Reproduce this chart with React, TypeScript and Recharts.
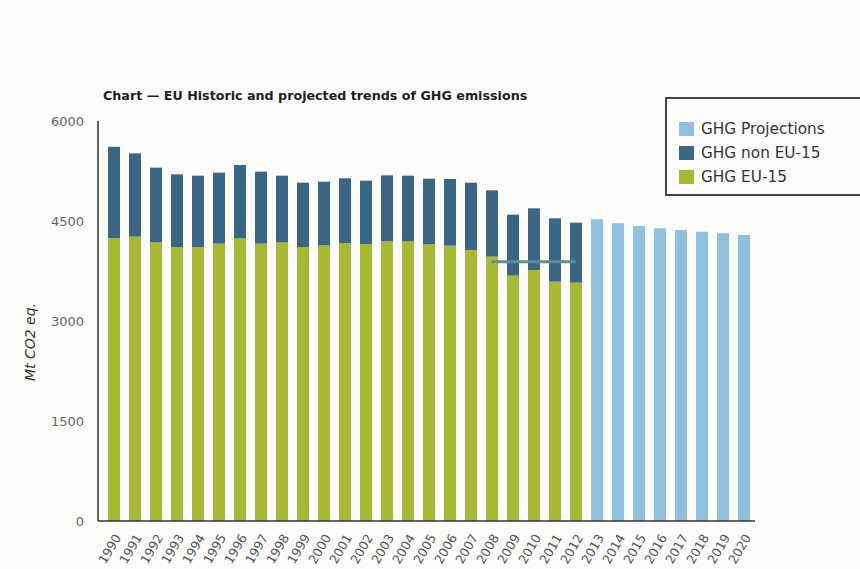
import { ComposedChart, Bar, Line, XAxis, YAxis } from 'recharts'

const years = [
  '1990', '1991', '1992', '1993', '1994', '1995', '1996', '1997', '1998', '1999', '2000',
  '2001', '2002', '2003', '2004', '2005', '2006', '2007', '2008', '2009', '2010', '2011',
  '2012', '2013', '2014', '2015', '2016', '2017', '2018', '2019', '2020',
]

// Mt CO2 eq.
const ghgEu15 = [
  4240, 4265, 4180, 4110, 4110, 4160, 4240, 4160, 4180, 4110, 4135,
  4170, 4155, 4195, 4195, 4150, 4130, 4065, 3965, 3680, 3765, 3590, 3575,
]
const ghgNonEu15 = [
  1375, 1250, 1120, 1090, 1070, 1065, 1100, 1080, 1000, 965, 955,
  970, 950, 990, 985, 985, 1000, 1010, 995, 915, 925, 950, 900,
]
const ghgProjections = [4525, 4465, 4425, 4390, 4365, 4340, 4315, 4290]
const projectionStart = '2013'

// the short horizontal line drawn across 2008-2012
const targetYears = ['2008', '2009', '2010', '2011', '2012']
const targetValue = 3890

const yTicks = [0, 1500, 3000, 4500, 6000]

const legendItems = [
  { label: 'GHG Projections', color: '#8fc1de' },
  { label: 'GHG non EU-15', color: '#3c6784' },
  { label: 'GHG EU-15', color: '#a7b934' },
]

const projOffset = years.indexOf(projectionStart)
const data = years.map((year, i) => ({
  year,
  eu15: i < ghgEu15.length ? ghgEu15[i] : null,
  nonEu15: i < ghgNonEu15.length ? ghgNonEu15[i] : null,
  projection: i >= projOffset ? ghgProjections[i - projOffset] : null,
  target: targetYears.includes(year) ? targetValue : null,
}))

const font = '"DejaVu Sans", Verdana, sans-serif'

function YearTick({ x, y, payload }: any) {
  return (
    <text
      x={x + 4}
      y={y + 6}
      transform={`rotate(-60, ${x + 4}, ${y + 6})`}
      textAnchor="end"
      dominantBaseline="central"
      fontSize={12.5}
      fill="#555"
      fontFamily={font}
    >
      {payload.value}
    </text>
  )
}

export default function App() {
  return (
    <div style={{ position: 'absolute', left: 0, top: 0, width: 860, height: 569, background: '#fcfcfb', overflow: 'hidden' }}>
      <div
        style={{
          position: 'absolute',
          left: 103,
          top: 88,
          fontFamily: font,
          fontWeight: 'bold',
          fontSize: 12.7,
          color: '#1e1e1e',
          whiteSpace: 'nowrap',
        }}
      >
        Chart — EU Historic and projected trends of GHG emissions
      </div>
      <div
        style={{
          position: 'absolute',
          left: 30,
          top: 342,
          transform: 'translate(-50%, -50%) rotate(-90deg)',
          fontFamily: font,
          fontStyle: 'italic',
          fontSize: 14,
          color: '#333',
          whiteSpace: 'nowrap',
        }}
      >
        Mt CO2 eq.
      </div>
      <div
        style={{
          position: 'absolute',
          left: 665,
          top: 97,
          width: 205,
          height: 99,
          border: '2px solid #444',
          boxSizing: 'border-box',
          padding: '18px 0 0 12px',
          background: '#fdfdfd',
          fontFamily: font,
        }}
      >
        {legendItems.map((item) => (
          <div key={item.label} style={{ display: 'flex', alignItems: 'center', height: 24 }}>
            <span style={{ width: 15, height: 14, background: item.color, display: 'inline-block', marginRight: 7 }} />
            <span style={{ fontSize: 15.3, color: '#333' }}>{item.label}</span>
          </div>
        ))}
      </div>
      <ComposedChart
        width={860}
        height={569}
        data={data}
        margin={{ top: 121, right: 105, bottom: 3, left: 38 }}
        barSize={12}
        style={{ position: 'absolute', left: 0, top: 0 }}
      >
        <XAxis
          dataKey="year"
          interval={0}
          height={45}
          padding={{ left: 5, right: 1 }}
          tickLine={false}
          axisLine={{ stroke: '#333', strokeWidth: 1.5 }}
          tick={<YearTick />}
        />
        <YAxis
          domain={[0, 6000]}
          ticks={yTicks}
          width={60}
          tickLine={false}
          axisLine={{ stroke: '#333', strokeWidth: 1.5 }}
          tick={{ fontSize: 13, fill: '#666', fontFamily: font }}
          tickMargin={8}
        />
        <Bar dataKey="eu15" stackId="a" fill="#a7b934" isAnimationActive={false} />
        <Bar dataKey="nonEu15" stackId="a" fill="#3c6784" isAnimationActive={false} />
        <Bar dataKey="projection" stackId="a" fill="#8fc1de" isAnimationActive={false} />
        <Line
          dataKey="target"
          stroke="#5b8ea3"
          strokeWidth={3}
          dot={false}
          connectNulls={false}
          isAnimationActive={false}
        />
      </ComposedChart>
    </div>
  )
}
